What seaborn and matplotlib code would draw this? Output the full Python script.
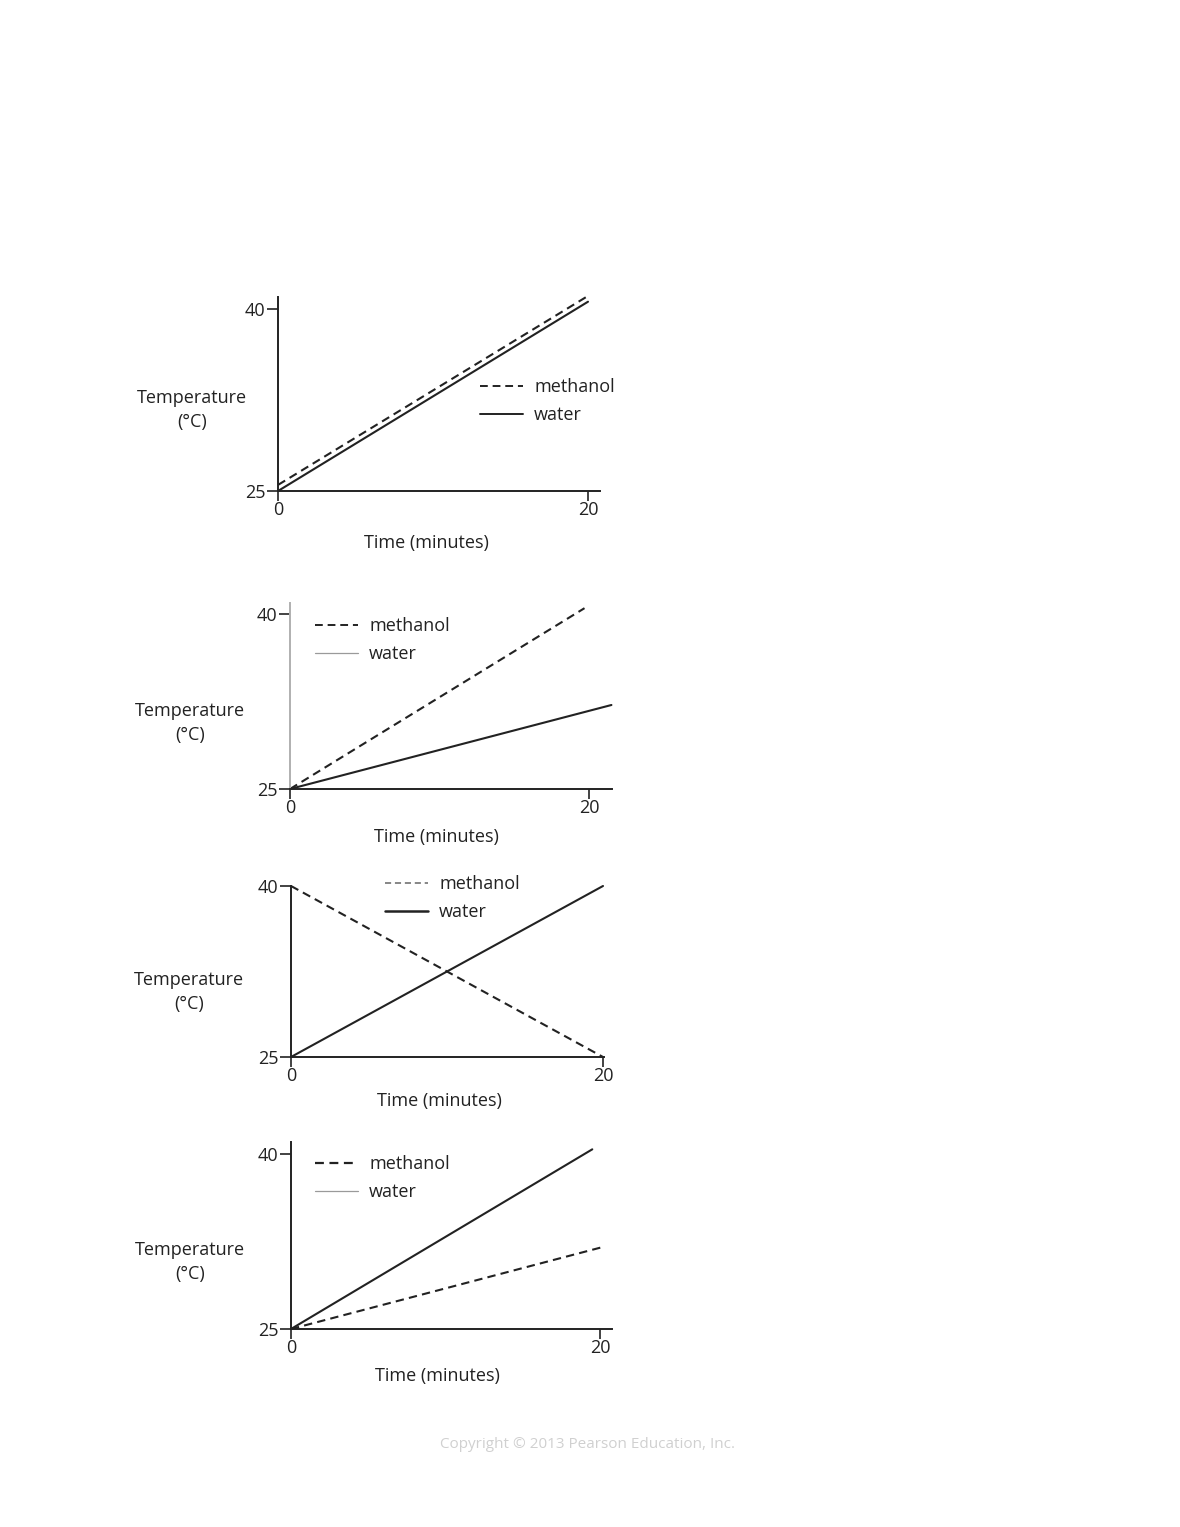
import matplotlib
matplotlib.use("Agg")
import matplotlib.pyplot as plt
from matplotlib.lines import Line2D
import seaborn as sns

sns.set_theme(style="white")
plt.rcParams['font.family'] = ['Open Sans', 'DejaVu Sans']

W, H = 1180, 1527

# data (time in minutes, temperature in °C)
p1_methanol_t = [0, 19.9]
p1_methanol_T = [25.5, 41.0]
p1_water_t = [0, 20]
p1_water_T = [25.0, 40.6]

p2_methanol_t = [0, 19.7]
p2_methanol_T = [25.0, 40.5]
p2_water_t = [0, 21.5]
p2_water_T = [25.0, 32.2]

p3_methanol_t = [0, 20]
p3_methanol_T = [40.0, 25.0]
p3_water_t = [0, 20]
p3_water_T = [25.0, 40.0]

p4_methanol_t = [0, 20.1]
p4_methanol_T = [25.0, 32.0]
p4_water_t = [0, 19.5]
p4_water_T = [25.0, 40.4]

x_ticks = [0, 20]
y_ticks = [25, 40]
x_label = "Time (minutes)"
y_label = "Temperature\n(°C)"
legend_labels = ["methanol", "water"]

ink = "#222222"
light = "#9a9a9a"

# pixel layout per panel: y-axis x, x=20 px, right end, y=25 px, y=40 px, top end
panels = [
    dict(x0=278, x20=588, xr=600, y25=491, y40=309, yt=297,
         meth=(p1_methanol_t, p1_methanol_T), water=(p1_water_t, p1_water_T),
         leg=(480, 401), ylab=(192, 410), xlab=(426, 543),
         yaxis_col=ink, leg_water=(ink, 1.4), leg_meth=(ink, 1.4)),
    dict(x0=290, x20=589, xr=612, y25=789, y40=614, yt=603,
         meth=(p2_methanol_t, p2_methanol_T), water=(p2_water_t, p2_water_T),
         leg=(315, 640), ylab=(190, 723), xlab=(436, 837),
         yaxis_col="#b0b0b0", leg_water=(light, 0.9), leg_meth=(ink, 1.4)),
    dict(x0=291, x20=603, xr=604, y25=1057, y40=886, yt=886,
         meth=(p3_methanol_t, p3_methanol_T), water=(p3_water_t, p3_water_T),
         leg=(385, 898), ylab=(189, 992), xlab=(439, 1101),
         yaxis_col=ink, leg_water=(ink, 1.8), leg_meth=("#666666", 1.1)),
    dict(x0=291, x20=600, xr=612, y25=1329, y40=1154, yt=1142,
         meth=(p4_methanol_t, p4_methanol_T), water=(p4_water_t, p4_water_T),
         leg=(315, 1178), ylab=(190, 1262), xlab=(437, 1376),
         yaxis_col=ink, leg_water=(light, 0.9), leg_meth=(ink, 1.6)),
]

fig = plt.figure(figsize=(W / 100, H / 100), dpi=100)
fig.patch.set_facecolor("white")

for p in panels:
    left = p["x0"] / W
    width = (p["xr"] - p["x0"]) / W
    bottom = 1 - p["y25"] / H
    height = (p["y25"] - p["yt"]) / H
    ax = fig.add_axes([left, bottom, width, height])
    ax.set_facecolor("none")

    px_per_min = (p["x20"] - p["x0"]) / 20
    px_per_deg = (p["y25"] - p["y40"]) / 15
    ax.set_xlim(0, (p["xr"] - p["x0"]) / px_per_min)
    ax.set_ylim(25, 25 + (p["y25"] - p["yt"]) / px_per_deg)

    sns.lineplot(x=p["water"][0], y=p["water"][1], ax=ax, color=ink,
                 lw=1.5, clip_on=False)
    sns.lineplot(x=p["meth"][0], y=p["meth"][1], ax=ax, color=ink,
                 lw=1.5, linestyle=(0, (4, 2.5)), clip_on=False)

    for s in ["top", "right"]:
        ax.spines[s].set_visible(False)
    ax.spines["left"].set_color(p["yaxis_col"])
    ax.spines["bottom"].set_color(ink)
    ax.spines["left"].set_linewidth(1.4)
    ax.spines["bottom"].set_linewidth(1.4)

    ax.set_xticks(x_ticks)
    ax.set_yticks(y_ticks)
    ax.tick_params(axis="y", direction="out", length=8, width=1.2,
                   color=ink, labelsize=13, labelcolor=ink, pad=1, left=True)
    ax.tick_params(axis="x", direction="out", length=7, width=1.2,
                   color=ink, labelsize=13, labelcolor=ink, pad=0, bottom=True)
    ax.set_xlabel("")
    ax.set_ylabel("")

    fig.text(p["ylab"][0] / W, 1 - p["ylab"][1] / H, y_label, ha="center",
             va="center", fontsize=13, color=ink, linespacing=1.45)
    fig.text(p["xlab"][0] / W, 1 - p["xlab"][1] / H, x_label, ha="center",
             va="center", fontsize=13, color=ink)

    handles = [
        Line2D([], [], color=p["leg_meth"][0], lw=p["leg_meth"][1],
               linestyle=(0, (4, 2.5))),
        Line2D([], [], color=p["leg_water"][0], lw=p["leg_water"][1]),
    ]
    fig.legend(handles, legend_labels, loc="center left",
               bbox_to_anchor=(p["leg"][0] / W, 1 - p["leg"][1] / H),
               frameon=False, fontsize=13, handlelength=2.4,
               handletextpad=0.6, labelspacing=0.55, borderpad=0,
               borderaxespad=0, labelcolor=ink)

fig.text(588 / W, 1 - 1444 / H, "Copyright © 2013 Pearson Education, Inc.",
         ha="center", va="center", fontsize=11, color="#d0d0d0")

fig.savefig("out.png", dpi=100)
